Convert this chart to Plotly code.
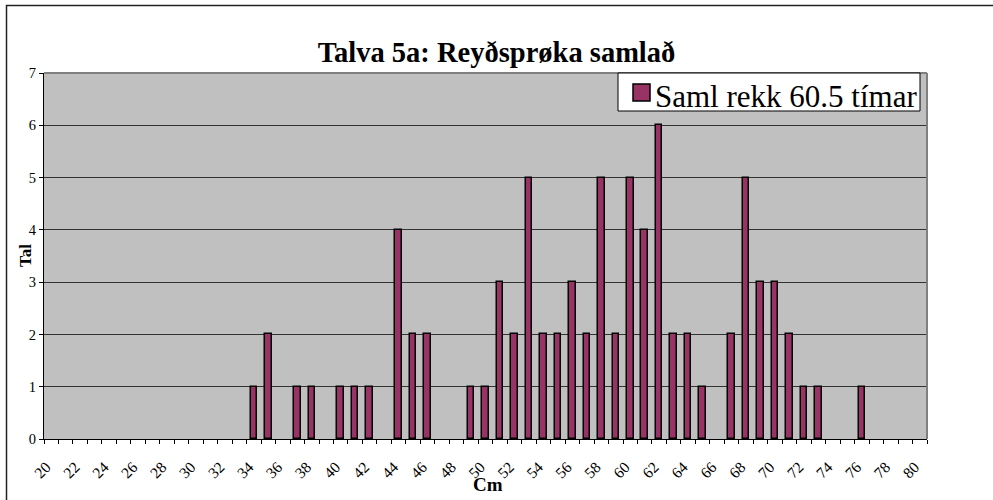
import plotly.graph_objects as go

categories = list(range(20, 81))
values = [0]*61
counts = {34: 1, 35: 2, 37: 1, 38: 1, 40: 1, 41: 1, 42: 1, 44: 4, 45: 2, 46: 2,
          49: 1, 50: 1, 51: 3, 52: 2, 53: 5, 54: 2, 55: 2, 56: 3, 57: 2, 58: 5,
          59: 2, 60: 5, 61: 4, 62: 6, 63: 2, 64: 2, 65: 1, 67: 2, 68: 5, 69: 3,
          70: 3, 71: 2, 72: 1, 73: 1, 76: 1}
for k, v in counts.items():
    values[categories.index(k)] = v
tick_labels = [str(c) for c in range(20, 81, 2)]
series_name = "Saml rekk 60.5 tímar"
title = "Talva 5a: Reyðsprøka samlað"
x_title = "Cm"
y_title = "Tal"

FONT = "Liberation Serif"
BAR = "#993366"

W, H = 993, 500
L, R, T, B = 44, 66, 73, 61
PW, PH = W - L - R, H - T - B


def px(x):
    return (x - L) / PW


def py(y):
    return 1 - (y - T) / PH


fig = go.Figure()
fig.add_trace(go.Bar(
    x=categories, y=[v if v else None for v in values], name=series_name, width=0.45,
    marker=dict(color=BAR, line=dict(color="black", width=1.5)),
    showlegend=False,
))

fig.update_layout(
    width=W, height=H,
    margin=dict(l=L, r=R, t=T, b=B),
    paper_bgcolor="white", plot_bgcolor="#C0C0C0",
    font=dict(family=FONT, color="black", size=13),
    title=dict(text="<b>" + title + "</b>", x=0.5, xanchor="center",
               y=1 - 52/H, yanchor="middle", font=dict(size=28.5, family=FONT)),
    bargap=0,
    showlegend=False,
    xaxis=dict(range=[19.5, 80.5], tickmode="array",
               tickvals=list(range(20, 81, 2)), ticktext=tick_labels,
               tickangle=-45, ticks="", showgrid=False, zeroline=False,
               showline=True, linecolor="black", linewidth=1, automargin=False,
               tickfont=dict(size=15.5, family=FONT),
               ticklabelstandoff=12, ticklabelshift=-5,
               minor=dict(tickmode="array", tickvals=[c - 0.5 for c in range(20, 82)],
                          ticks="outside", ticklen=4, tickcolor="black", showgrid=False)),
    yaxis=dict(range=[0, 7], dtick=1, ticks="outside", ticklen=4, tickcolor="black",
               showgrid=True, gridcolor="#333333", gridwidth=1, zeroline=False,
               showline=True, linecolor="black", linewidth=1, automargin=False,
               tickfont=dict(size=14.5, family=FONT)),
    shapes=[
        dict(type="line", xref="paper", yref="paper", x0=0, x1=1, y0=1, y1=1,
             line=dict(color="#808080", width=2)),
        dict(type="line", xref="paper", yref="paper", x0=1, x1=1, y0=0, y1=1,
             line=dict(color="#808080", width=2)),
        # chart-area border (right/bottom edges lie outside the window)
        dict(type="rect", xref="paper", yref="paper",
             x0=px(6.5), x1=px(1005), y0=py(510), y1=py(5.5),
             line=dict(color="#222222", width=1.5), fillcolor="rgba(0,0,0,0)",
             layer="below"),
        # legend box and key
        dict(type="rect", xref="paper", yref="paper",
             x0=px(618), x1=px(920), y0=py(111), y1=py(73),
             line=dict(color="black", width=1), fillcolor="white", layer="above"),
        dict(type="rect", xref="paper", yref="paper",
             x0=px(633), x1=px(650), y0=py(101), y1=py(84),
             line=dict(color="black", width=1.5), fillcolor=BAR, layer="above"),
    ],
    annotations=[
        dict(text=series_name, xref="paper", yref="paper", x=px(653), y=py(97),
             xanchor="left", yanchor="middle", showarrow=False,
             font=dict(size=31, family=FONT, color="black")),
        dict(text="<b>" + x_title + "</b>", xref="paper", yref="paper", x=px(488), y=py(484),
             xanchor="center", yanchor="middle", showarrow=False,
             font=dict(size=19, family=FONT, color="black")),
        dict(text="<b>" + y_title + "</b>", xref="paper", yref="paper", x=px(25), y=py(256),
             xanchor="center", yanchor="middle", showarrow=False, textangle=-90,
             font=dict(size=17, family=FONT, color="black")),
    ],
)

fig.write_html("out.html", config={"displayModeBar": False},
               post_script="document.body.style.margin='0';")
